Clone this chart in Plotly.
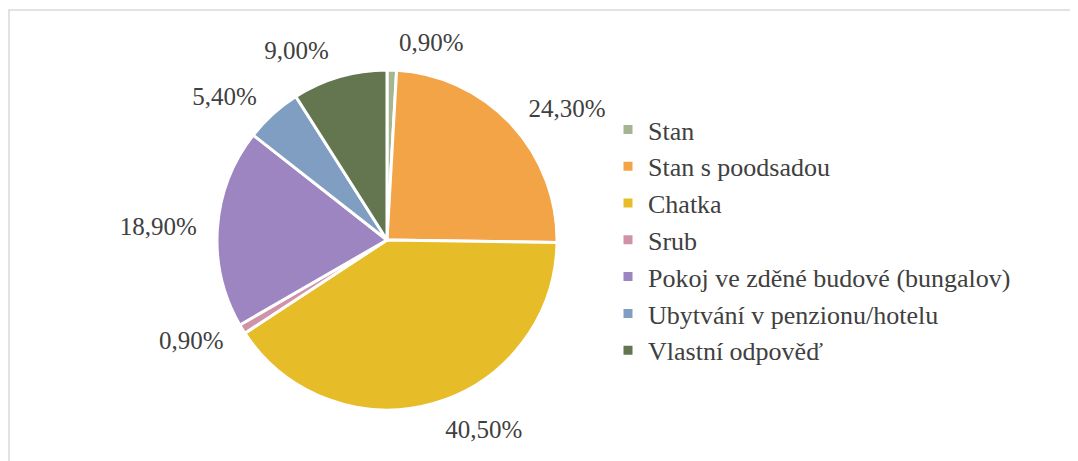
import plotly.graph_objects as go

labels = ["Stan", "Stan s poodsadou", "Chatka", "Srub",
          "Pokoj ve zděné budové (bungalov)", "Ubytvání v penzionu/hotelu",
          "Vlastní odpověď"]
values = [0.9, 24.3, 40.5, 0.9, 18.9, 5.4, 9.0]
colors = ["#a5b592", "#f3a447", "#e7bc29", "#d092a7", "#9c85c0", "#809ec2", "#637650"]

# page body has an 8px margin, so the figure is 16px smaller than the window
W, H = 1070, 453
FONT = "Liberation Serif, DejaVu Serif, serif"
cx, cy, r = 379, 232, 170     # pie centre / radius in figure pixels
r_lab = 184                   # invisible pie that carries the outside labels

fig = go.Figure()
# labels ride on a slightly larger transparent pie so they sit further out
fig.add_trace(go.Pie(
    labels=labels, values=values, sort=False, direction="clockwise", rotation=0,
    marker=dict(colors=["rgba(0,0,0,0)"] * len(values), line=dict(width=0)),
    texttemplate="%{value:.2f}%", textposition="outside",
    textfont=dict(family=FONT, size=25, color="#404040"),
    domain=dict(x=[(cx - r_lab) / W, (cx + r_lab) / W],
                y=[(H - cy - r_lab) / H, (H - cy + r_lab) / H]),
    showlegend=False, hoverinfo="skip",
))
fig.add_trace(go.Pie(
    labels=labels, values=values, sort=False, direction="clockwise", rotation=0,
    marker=dict(colors=colors, line=dict(color="white", width=3)),
    textinfo="none",
    domain=dict(x=[(cx - r) / W, (cx + r) / W],
                y=[(H - cy - r) / H, (H - cy + r) / H]),
    hoverinfo="label+value",
))

fig.update_layout(
    width=W, height=H,
    margin=dict(l=0, r=0, t=0, b=0),
    separators=", ",
    paper_bgcolor="white",
    font=dict(family=FONT, color="#404040"),
    legend=dict(x=600 / W, xanchor="left", y=1 - 98 / H, yanchor="top",
                font=dict(family=FONT, size=26, color="#404040"),
                bgcolor="rgba(0,0,0,0)"),
    shapes=[dict(type="rect", xref="paper", yref="paper",
                 x0=1 / W, x1=1.05, y0=-0.05, y1=1 - 2 / H,
                 line=dict(color="#d9d9d9", width=1.5))],
)

fig.write_html("out.html")
